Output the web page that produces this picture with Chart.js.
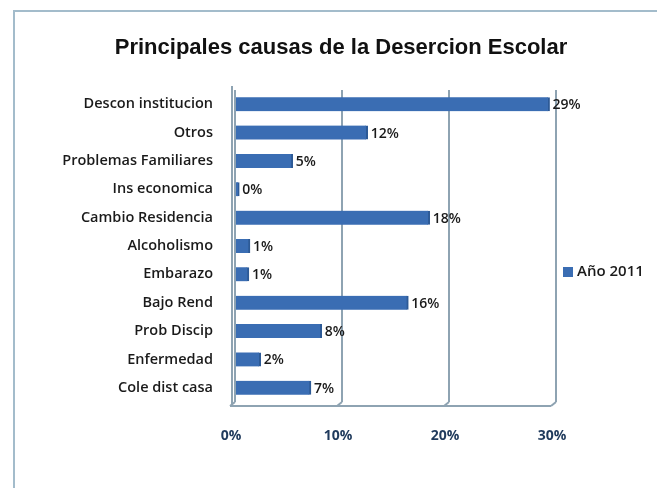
<!DOCTYPE html>
<html>
<head>
<meta charset="utf-8">
<script src="https://cdn.jsdelivr.net/npm/chart.js@4.4.1/dist/chart.umd.min.js"></script>
<style>
html,body{margin:0;padding:0;background:#fff;}
#wrap{position:relative;width:657px;height:488px;}
</style>
</head>
<body>
<div id="wrap"><canvas id="c" width="657" height="488"></canvas></div>
<script>
const chartTitle = "Principales causas de la Desercion Escolar";
const seriesName = "Año 2011";
const categories = ["Descon institucion","Otros","Problemas Familiares","Ins economica","Cambio Residencia","Alcoholismo","Embarazo","Bajo Rend","Prob Discip","Enfermedad","Cole dist casa"];
const values = [29.4, 12.4, 5.4, 0.4, 18.2, 1.4, 1.3, 16.2, 8.1, 2.4, 7.1];
const xTicks = [0, 10, 20, 30];

const BAR = '#3a6db3';
const GRID = '#8ea3b2';
const LABEL_FONT = '"Open Sans", "Lato", sans-serif';

const framePlugin = {
  id: 'frame',
  beforeDraw(chart) {
    const ctx = chart.ctx;
    ctx.save();
    ctx.fillStyle = '#ffffff';
    ctx.fillRect(0, 0, chart.width, chart.height);
    ctx.strokeStyle = '#a3bccb';
    ctx.lineWidth = 2;
    ctx.beginPath();
    ctx.moveTo(14, 488);
    ctx.lineTo(14, 11);
    ctx.lineTo(657, 11);
    ctx.stroke();
    ctx.restore();
  },
  afterDraw(chart) {
    const ctx = chart.ctx;
    ctx.save();
    // title
    ctx.fillStyle = '#111';
    ctx.font = 'bold 22px "Liberation Sans", Arial, sans-serif';
    ctx.textAlign = 'center';
    ctx.textBaseline = 'middle';
    ctx.fillText(chartTitle, 341, 48);
    // legend
    ctx.fillStyle = BAR;
    ctx.fillRect(563, 267, 10, 10);
    ctx.fillStyle = '#1a1a1a';
    ctx.font = '600 15px ' + LABEL_FONT;
    ctx.textAlign = 'left';
    ctx.fillText(seriesName, 577, 272);
    // data labels
    const meta = chart.getDatasetMeta(0);
    ctx.font = '600 14px ' + LABEL_FONT;
    ctx.fillStyle = '#1a1a1a';
    meta.data.forEach((bar, i) => {
      ctx.fillText(Math.round(values[i]) + '%', bar.x + 3, bar.y + 1);
    });
    // 3D floor hints
    const xs = chart.scales.x, ca = chart.chartArea;
    ctx.strokeStyle = GRID;
    ctx.lineWidth = 2;
    xTicks.forEach(t => {
      const px = xs.getPixelForValue(t);
      ctx.beginPath();
      ctx.moveTo(px - 5, ca.bottom + 4);
      ctx.lineTo(px, ca.bottom);
      ctx.stroke();
    });
    ctx.beginPath();
    ctx.moveTo(ca.left - 5, ca.bottom + 4);
    ctx.lineTo(xs.getPixelForValue(30) - 5, ca.bottom + 4);
    ctx.stroke();
    ctx.beginPath();
    ctx.moveTo(ca.left - 3, ca.top - 4);
    ctx.lineTo(ca.left - 3, ca.bottom + 4);
    ctx.stroke();
    ctx.restore();
  }
};

new Chart(document.getElementById('c'), {
  type: 'bar',
  data: {
    labels: categories,
    datasets: [{
      label: seriesName,
      data: values,
      backgroundColor: BAR,
      borderColor: '#2d5a96',
      borderWidth: {top: 0, bottom: 0, left: 0, right: 2},
      barThickness: 14
    }]
  },
  options: {
    indexAxis: 'y',
    responsive: false,
    animation: false,
    events: [],
    layout: { padding: { left: 0, right: 101, top: 90, bottom: 0 } },
    plugins: { legend: { display: false }, title: { display: false }, tooltip: { enabled: false } },
    scales: {
      x: {
        min: 0, max: 30,
        afterBuildTicks(scale) { scale.ticks = xTicks.map(v => ({ value: v })); },
        afterFit(scale) { scale.height = 86; },
        grid: { color: GRID, lineWidth: 2, drawTicks: false },
        border: { display: false },
        ticks: {
          padding: 26,
          labelOffset: -4,
          color: '#1f3a5c',
          font: { family: LABEL_FONT, size: 14, weight: 'bold' },
          callback: v => v + '%'
        }
      },
      y: {
        afterFit(scale) { scale.width = 235; },
        grid: { display: false, drawTicks: false },
        border: { display: false },
        ticks: {
          padding: 22,
          color: '#1a1a1a',
          font: { family: LABEL_FONT, size: 14.5, weight: '600' }
        }
      }
    }
  },
  plugins: [framePlugin]
});
</script>
</body>
</html>
